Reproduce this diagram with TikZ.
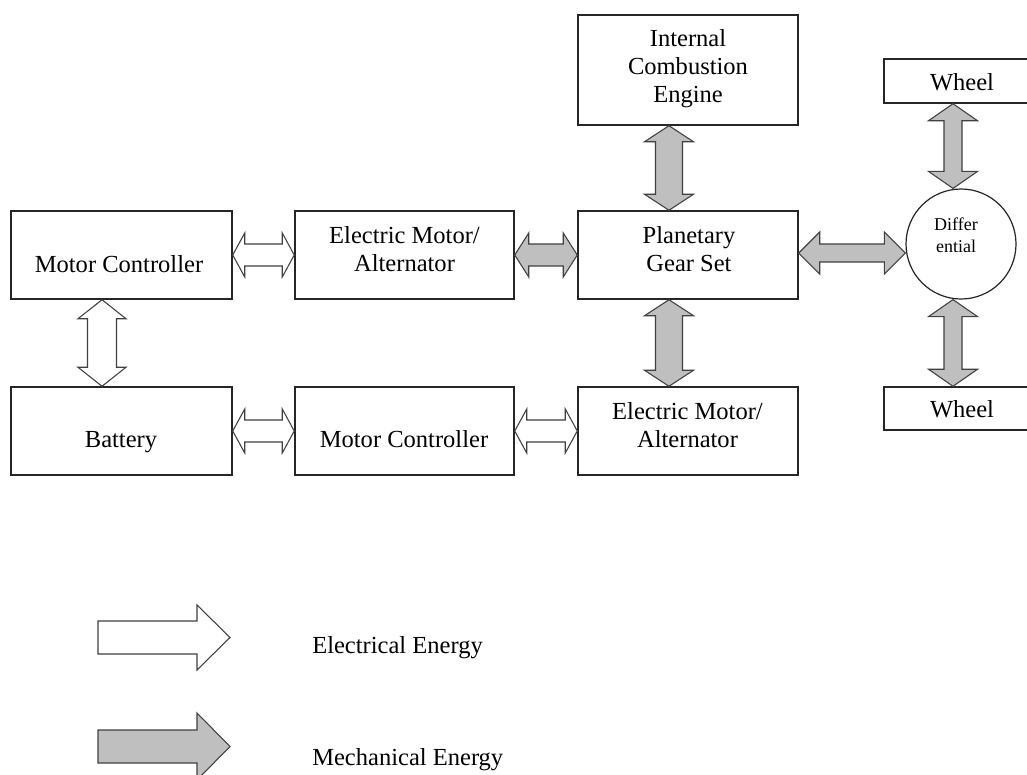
\documentclass[tikz,border=0pt]{standalone}
\usepackage{fontspec}
\setmainfont{Liberation Serif}
\usetikzlibrary{calc}
\tikzset{
  box/.style={draw=black!85, line width=1.1pt, fill=white, inner sep=0pt, rectangle},
  lbl/.style={anchor=base, inner sep=0pt, align=center, font=\fontsize{18.4}{21}\selectfont},
  elec/.style={draw=black!75, line width=0.8pt, fill=white, line join=miter},
  mech/.style={draw=black!75, line width=0.8pt, fill=black!25, line join=miter},
}
\newcommand{\bx}[5]{\node[box, minimum width=#3*0.75pt, minimum height=#4*0.75pt, #5] (#1) at (#2) {};}
\newcommand{\harr}[6]{\draw[#1] let \p1=(#2), \p2=(#3) in
  (\x1,\y1) -- (\x1+#6*0.75pt,\y1+#5*0.75pt) -- (\x1+#6*0.75pt,\y1+#4*0.75pt)
  -- (\x2-#6*0.75pt,\y1+#4*0.75pt) -- (\x2-#6*0.75pt,\y1+#5*0.75pt) -- (\x2,\y1)
  -- (\x2-#6*0.75pt,\y1-#5*0.75pt) -- (\x2-#6*0.75pt,\y1-#4*0.75pt)
  -- (\x1+#6*0.75pt,\y1-#4*0.75pt) -- (\x1+#6*0.75pt,\y1-#5*0.75pt) -- cycle;}
\newcommand{\varr}[6]{\draw[#1] let \p1=(#2), \p2=(#3) in
  (\x1,\y1) -- (\x1+#5*0.75pt,\y1-#6*0.75pt) -- (\x1+#4*0.75pt,\y1-#6*0.75pt)
  -- (\x1+#4*0.75pt,\y2+#6*0.75pt) -- (\x1+#5*0.75pt,\y2+#6*0.75pt) -- (\x1,\y2)
  -- (\x1-#5*0.75pt,\y2+#6*0.75pt) -- (\x1-#4*0.75pt,\y2+#6*0.75pt)
  -- (\x1-#4*0.75pt,\y1-#6*0.75pt) -- (\x1-#5*0.75pt,\y1-#6*0.75pt) -- cycle;}
\begin{document}
\begin{tikzpicture}[x=0.75pt, y=-0.75pt]
\clip (0,0) rectangle (1027,774);
\fill[white] (0,0) rectangle (1027,774);
% boxes
\bx{mc1}{121.5,255}{221}{88}{}
\bx{bat}{121.5,431}{221}{88}{}
\bx{em1}{404.5,255}{219}{88}{}
\bx{mc2}{404.5,431}{219}{88}{}
\bx{pgs}{688,255}{220}{88}{}
\bx{ice}{688,70}{220}{110}{}
\bx{em2}{688,431}{220}{88}{}
\bx{wh1}{962,81}{156}{44}{}
\bx{wh2}{962,408.5}{156}{43}{}
\node[draw=black!85, line width=0.9pt, fill=white, circle, inner sep=0pt, minimum size=110*0.75pt] (diff) at (961,244) {};
% labels (base anchor = baseline of the last line)
\node[lbl] (t-mc1) at (119,272) {Motor Controller};
\node[lbl] (t-bat) at (121,447) {Battery};
\node[lbl] (t-mc2) at (404,447) {Motor Controller};
\node[lbl] (t-em1) at (404.5,271) {Electric Motor/\\Alternator};
\node[lbl] (t-em2) at (687.5,447) {Electric Motor/\\Alternator};
\node[lbl] (t-pgs) at (689,271) {Planetary\\Gear Set};
\node[lbl] (t-ice) at (688,103) {Internal\\Combustion\\Engine};
\node[lbl] (t-wh1) at (962,90) {Wheel};
\node[lbl] (t-wh2) at (962,417) {Wheel};
\node[anchor=base, inner sep=0pt, align=center, font=\fontsize{13.5}{16.5}\selectfont] (t-diff) at (956,252) {Differ\\ential};
% connectors
\harr{elec}{mc1.east}{em1.west}{11}{22}{12}
\varr{elec}{$(mc1.south)+(-19.5,0)$}{$(bat.north)+(-19.5,0)$}{14.5}{24}{19}
\harr{elec}{bat.east}{mc2.west}{11}{22}{12}
\harr{elec}{mc2.east}{em2.west}{11}{22}{12}
\harr{mech}{em1.east}{pgs.west}{11}{22}{14}
\varr{mech}{$(ice.south)+(-19,0)$}{$(pgs.north)+(-19,0)$}{13.5}{24.5}{16}
\varr{mech}{$(pgs.south)+(-19,0)$}{$(em2.north)+(-19,0)$}{13.5}{24.5}{16}
\harr{mech}{$(pgs.east)+(0,-2)$}{diff.west}{9}{21}{21}
\varr{mech}{$(wh1.south)+(-9,0)$}{diff.north}{9}{24.5}{17}
\varr{mech}{$(wh2.north |- diff.south)+(-9,0)$}{wh2.north}{9}{24.5}{17}
% legend
\draw[elec] (98,621) -- (197,621) -- (197,605) -- (230,637.5) -- (197,670) -- (197,654) -- (98,654) -- cycle;
\draw[mech] (98,730) -- (197,730) -- (197,713) -- (230,746.5) -- (197,780) -- (197,763) -- (98,763) -- cycle;
\node[anchor=base west, inner sep=0pt, font=\fontsize{18.4}{21}\selectfont] (leg-e) at (312,653) {Electrical Energy};
\node[anchor=base west, inner sep=0pt, font=\fontsize{18.4}{21}\selectfont] (leg-m) at (312,765) {Mechanical Energy};
\end{tikzpicture}
\end{document}
